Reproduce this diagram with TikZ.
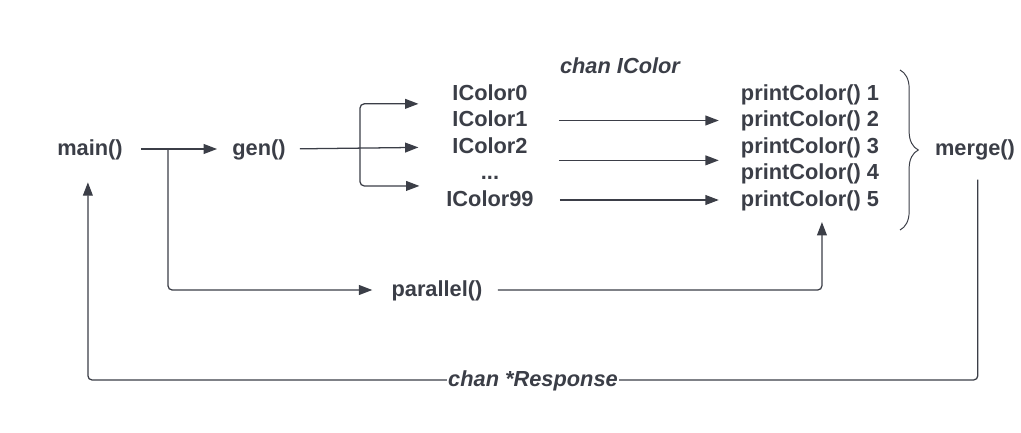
\documentclass[tikz,border=0pt]{standalone}
\usepackage{fontspec}
\setmainfont{Liberation Sans}
\usetikzlibrary{arrows.meta,decorations.pathreplacing}
\definecolor{ink}{HTML}{3B3E47}

\begin{document}
\begin{tikzpicture}
  [x=0.025cm,y=-0.025cm,
   every node/.style={font=\bfseries\fontsize{15.5}{18}\selectfont,text=ink,
     inner sep=0pt,text height=12pt,text depth=3pt},
   chan/.style={font=\bfseries\itshape\fontsize{15.5}{18}\selectfont},
   flow/.style={draw=ink,line width=0.9pt,rounded corners=3pt,
     -{Triangle[length=9.5pt,width=7pt]}}]
  \useasboundingbox (0,0) rectangle (1021,433);

  \node (main) at (90,149) {main()};
  \node (gen) at (259,149) {gen()};
  \node (par) at (437,290) {parallel()};
  \node (merge) at (975,149) {merge()};

  \node[chan] (ichan) at (620,67) {chan IColor};
  \node (ic0) at (490,94) {IColor0};
  \node (ic1) at (490,120.5) {IColor1};
  \node (ic2) at (490,147) {IColor2};
  \node (icd) at (490,173.5) {...};
  \node (ic99) at (490,200) {IColor99};

  \node (pc1) at (810,94) {printColor() 1};
  \node (pc2) at (810,120.5) {printColor() 2};
  \node (pc3) at (810,147) {printColor() 3};
  \node (pc4) at (810,173.5) {printColor() 4};
  \node (pc5) at (810,200) {printColor() 5};

  \coordinate (fork) at (360,149);
  \coordinate (back) at (533,380);

  % main -> gen, gen -> colors
  \path[flow,shorten <=12.8pt,shorten >=10.7pt] (main.east) -- (gen.west);
  \path[flow,shorten <=10pt,shorten >=24pt] (gen.east) -- (ic2.west);
  \path[flow,shorten >=24pt] (fork) |- ([yshift=-7pt]ic0.west);
  \path[flow,shorten >=19pt] (fork) |- ([yshift=10pt]ic99.west);

  % channels to printers
  \path[flow,shorten <=22pt,shorten >=15.6pt] (ic1.east) -- (pc2.west);
  \path[flow,shorten <=22pt,shorten >=15.6pt]
    ([yshift=-9.5pt]ic2.east) -- ([yshift=-9.5pt]pc3.west);
  \path[flow,shorten <=18.5pt,shorten >=15.6pt] (ic99.east) -- (pc5.west);

  % parallel
  \path[flow,shorten >=13.5pt] ([xshift=32pt]main.east) |- (par.west);
  \path[flow,shorten <=10.7pt,shorten >=8pt] (par.east) -| ([xshift=8.5pt]pc5.south);

  \draw[ink,line width=0.7pt,decorate,decoration={brace,amplitude=13pt}]
    (900,70) -- (900,230);

  % results back to main
  \path[flow,shorten <=14pt,shorten >=16pt]
    ([xshift=2pt]merge.south) |- (back) -| ([xshift=-1.5pt]main.south);
  \node[chan,fill=white,inner xsep=1pt] (resp) at (back) {chan *Response};
\end{tikzpicture}
\end{document}
